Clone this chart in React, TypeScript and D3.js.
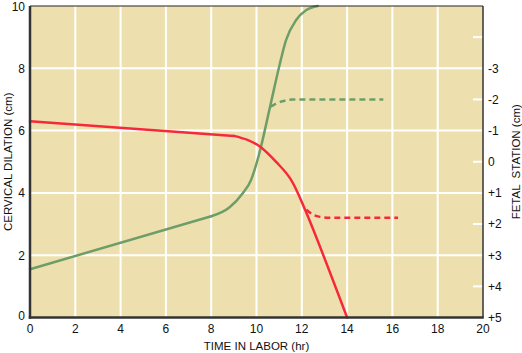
import React, { useEffect, useRef } from 'react';
import * as d3 from 'd3';

// cervical dilation (cm) vs time (hr): straight latent phase, then curved active phase
const dilationLatentHours = [0, 8];
const dilationLatentCm = [1.55, 3.25];
const dilationActiveHours = [8, 8.8, 9.4, 9.75, 10.1, 10.6, 11.0, 11.3, 11.75, 12.2, 12.7];
const dilationActiveCm = [3.25, 3.53, 4.0, 4.4, 5.2, 6.77, 8.05, 8.9, 9.55, 9.87, 10.0];

// fetal station (cm) vs time
const stationLatentHours = [0, 9];
const stationLatentCm = [-1.3, -0.83];
const stationActiveHours = [9, 9.6, 10.15, 10.9, 11.5, 12.15, 14];
const stationActiveCm = [-0.83, -0.7, -0.49, 0.03, 0.55, 1.55, 5.0];

// dashed branches
const greenDashHours = [10.63, 10.9, 11.2, 11.6, 15.6];
const greenDashStation = [-1.77, -1.88, -1.95, -2, -2];
const redDashHours = [12.2, 12.5, 12.8, 13.2, 16.25];
const redDashStation = [1.54, 1.7, 1.77, 1.8, 1.8];

const xTicks = [0, 2, 4, 6, 8, 10, 12, 14, 16, 18, 20];
const leftTicks = [0, 2, 4, 6, 8, 10];
const rightTicks = [-3, -2, -1, 0, 1, 2, 3, 4, 5];
const rightTickLabels = ['-3', '-2', '-1', '0', '+1', '+2', '+3', '+4', '+5'];
const rightMarks = [-4, -2, 0, 2, 4];

const App = () => {
  const svgRef = useRef<SVGSVGElement>(null);

  useEffect(() => {
    const W = 522;
    const H = 353;
    const margin = { top: 6, right: 39, bottom: 35, left: 30 };
    const width = W - margin.left - margin.right;
    const height = H - margin.top - margin.bottom - 0.5;

    const root = d3.select(svgRef.current);
    root.selectAll('*').remove();
    const svg = root
      .append('g')
      .attr('transform', `translate(${margin.left},${margin.top})`);

    const x = d3.scaleLinear().domain([0, 20]).range([0, width]);
    const y = d3.scaleLinear().domain([0, 10]).range([height, 0]);
    const y2 = d3.scaleLinear().domain([-5, 5]).range([0, height]);

    const font = '"Liberation Sans", Arial, sans-serif';

    svg.append('rect')
      .attr('width', width)
      .attr('height', height)
      .attr('fill', '#eee0ae');

    // grid
    svg.append('g')
      .selectAll('line')
      .data(xTicks.slice(1, -1))
      .enter()
      .append('line')
      .attr('x1', d => x(d)).attr('x2', d => x(d))
      .attr('y1', 0).attr('y2', height)
      .attr('stroke', '#fff').attr('stroke-width', 2);

    svg.append('g')
      .selectAll('line')
      .data(leftTicks.slice(1, -1))
      .enter()
      .append('line')
      .attr('x1', 0).attr('x2', width)
      .attr('y1', d => y(d)).attr('y2', d => y(d))
      .attr('stroke', '#fff').attr('stroke-width', 2);

    // short white ticks on the right edge
    svg.append('g')
      .selectAll('line')
      .data(rightMarks)
      .enter()
      .append('line')
      .attr('x1', width - 10).attr('x2', width)
      .attr('y1', d => y2(d)).attr('y2', d => y2(d))
      .attr('stroke', '#fff').attr('stroke-width', 2);

    const zip = (a: number[], b: number[]) => a.map((v, i) => [v, b[i]] as [number, number]);

    const green = '#6e9e68';
    const red = '#f8283c';

    const draw = (pts: [number, number][], yScale: d3.ScaleLinear<number, number>, color: string, curve: d3.CurveFactory, dash?: string) => {
      const line = d3.line<[number, number]>()
        .x(d => x(d[0]))
        .y(d => yScale(d[1]))
        .curve(curve);
      const p = svg.append('path')
        .datum(pts)
        .attr('d', line)
        .attr('fill', 'none')
        .attr('stroke', color)
        .attr('stroke-width', 2.5)
        .attr('stroke-linecap', dash ? 'butt' : 'round');
      if (dash) p.attr('stroke-dasharray', dash);
    };

    draw(zip(greenDashHours, greenDashStation), y2, green, d3.curveMonotoneX, '6,4');
    draw(zip(redDashHours, redDashStation), y2, red, d3.curveMonotoneX, '6,4');
    draw(zip(dilationLatentHours, dilationLatentCm), y, green, d3.curveLinear);
    draw(zip(dilationActiveHours, dilationActiveCm), y, green, d3.curveMonotoneX);
    draw(zip(stationLatentHours, stationLatentCm), y2, red, d3.curveLinear);
    draw(zip(stationActiveHours, stationActiveCm), y2, red, d3.curveCatmullRom);

    // frame
    svg.append('line')
      .attr('x1', 0).attr('x2', width).attr('y1', 0).attr('y2', 0)
      .attr('stroke', '#222').attr('stroke-width', 1);
    svg.append('line')
      .attr('x1', width).attr('x2', width).attr('y1', 0).attr('y2', height)
      .attr('stroke', '#333').attr('stroke-width', 1.5);
    svg.append('line')
      .attr('x1', 0).attr('x2', 0).attr('y1', 0).attr('y2', height + 1.25)
      .attr('stroke', '#333').attr('stroke-width', 2.5);
    svg.append('line')
      .attr('x1', -1.25).attr('x2', width + 0.75).attr('y1', height).attr('y2', height)
      .attr('stroke', '#333').attr('stroke-width', 2.5);

    // tick labels
    svg.append('g')
      .selectAll('text')
      .data(xTicks)
      .enter()
      .append('text')
      .attr('x', d => x(d))
      .attr('y', height + 15)
      .attr('text-anchor', 'middle')
      .attr('font-family', font).attr('font-size', 12).attr('fill', '#111')
      .text(d => d);

    svg.append('g')
      .selectAll('text')
      .data(leftTicks)
      .enter()
      .append('text')
      .attr('x', -5)
      .attr('y', d => y(d) + (d === 0 ? 2.5 : 4.5))
      .attr('text-anchor', 'end')
      .attr('font-family', font).attr('font-size', 12).attr('fill', '#111')
      .text(d => d);

    svg.append('g')
      .selectAll('text')
      .data(rightTicks)
      .enter()
      .append('text')
      .attr('x', width + 5)
      .attr('y', d => y2(d) + 4.3)
      .attr('font-family', font).attr('font-size', 12).attr('fill', '#111')
      .text((d, i) => rightTickLabels[i]);

    // axis titles
    svg.append('text')
      .attr('transform', `translate(${-18},${height / 2}) rotate(-90)`)
      .attr('text-anchor', 'middle')
      .attr('font-family', font).attr('font-size', 11.5).attr('fill', '#111')
      .text('CERVICAL DILATION (cm)');

    svg.append('text')
      .attr('transform', `translate(${width + 36.5},${height / 2}) rotate(-90)`)
      .attr('text-anchor', 'middle')
      .attr('font-family', font).attr('font-size', 11.5).attr('fill', '#111')
      .style('white-space', 'pre')
      .text('FETAL  STATION (cm)');

    svg.append('text')
      .attr('x', width / 2)
      .attr('y', height + 32)
      .attr('text-anchor', 'middle')
      .attr('font-family', font).attr('font-size', 11.5).attr('fill', '#111')
      .text('TIME IN LABOR (hr)');
  }, []);

  return (
    <svg
      ref={svgRef}
      width={522}
      height={353}
      style={{ position: 'absolute', left: 0, top: 0, background: '#fff' }}
    />
  );
};

export default App;
